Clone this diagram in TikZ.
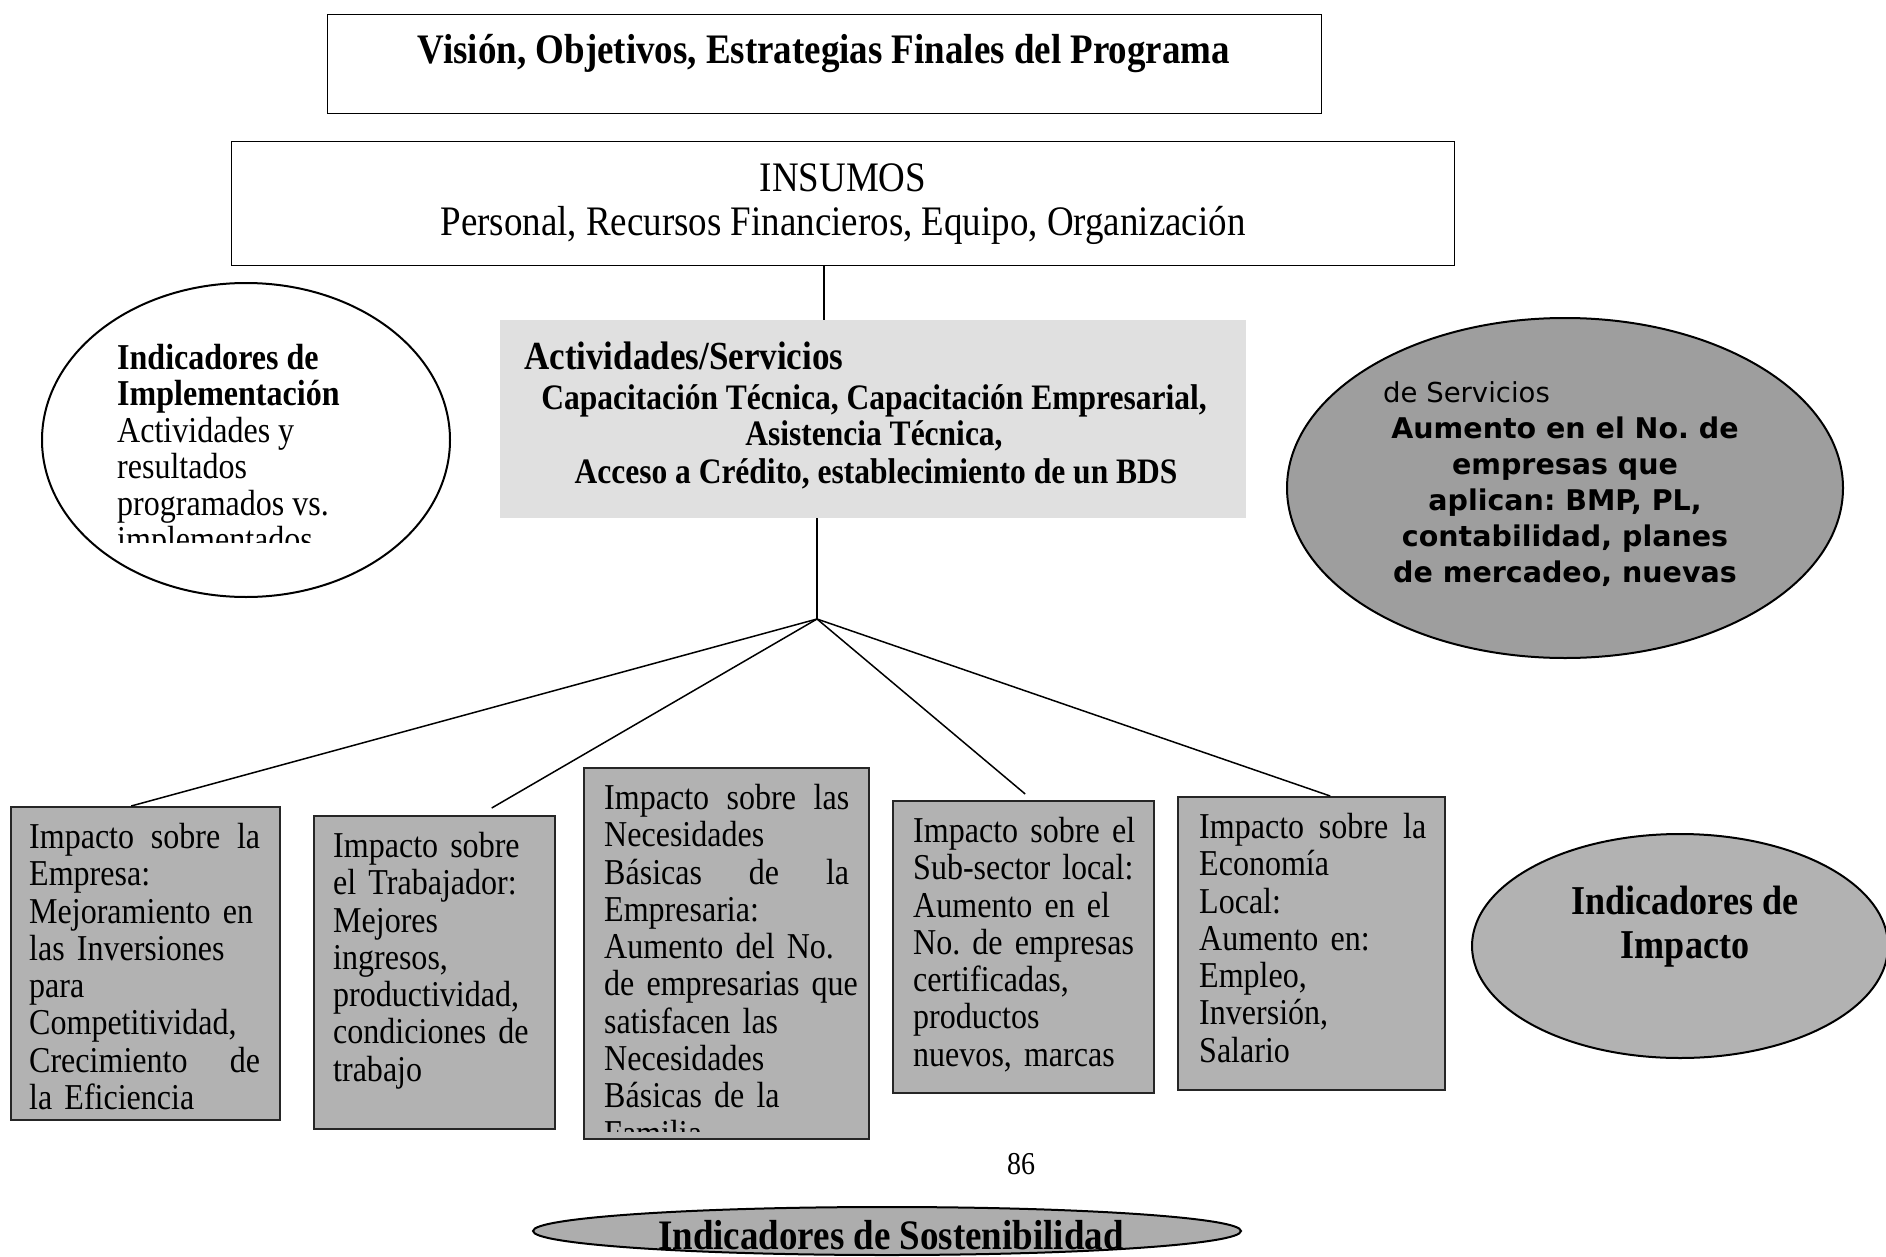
\documentclass[tikz,border=0pt]{standalone}
\usepackage{fontspec}
\setmainfont{Liberation Serif}[FakeStretch=0.88]
\newfontfamily\versans{DejaVu Sans}
\usetikzlibrary{shapes.geometric}
\newcommand\jline[2]{\makebox[#1pt][l]{#2}}
\frenchspacing
\begin{document}
\begin{tikzpicture}[x=1pt,y=-1pt,
  box/.style={draw=black, line width=1.4pt, rectangle, inner sep=0pt, anchor=north west},
  impbox/.style={draw=black!85, line width=2.4pt, fill=black!30, rectangle, inner sep=0pt, anchor=north west},
  imptext/.style={anchor=north west, inner sep=0pt, align=left, font=\fontsize{36.4}{37.3}\selectfont},
  oval/.style={ellipse, draw=black, line width=2pt, inner sep=0pt},
  conn/.style={draw=black, line width=1.5pt},
  lbl/.style={inner sep=0pt, anchor=base}]
\useasboundingbox (0,0) rectangle (1886,1257);
\fill[white] (0,0) rectangle (1886,1257);

% top box
\node[box, minimum width=994pt, minimum height=99pt] (vision) at (327,14) {};
\node[lbl, font=\bfseries\fontsize{42}{48}\selectfont] (visiont) at (824,64) {Visión, Objetivos, Estrategias Finales del Programa};

% insumos
\node[box, minimum width=1223pt, minimum height=124pt] (insumos) at (231,141) {};
\node[lbl, font=\fontsize{42}{48}\selectfont] (insumos1) at (843,192) {INSUMOS};
\node[lbl, font=\fontsize{42}{48}\selectfont] (insumos2) at (843,236) {Personal, Recursos Financieros, Equipo, Organización};

% actividades
\node[rectangle, fill=black!12, minimum width=746pt, minimum height=198pt, anchor=north west, inner sep=0pt] (acts) at (500,320) {};
\node[lbl, anchor=base west, font=\bfseries\fontsize{39.8}{44}\selectfont] (actst) at (524,369) {Actividades/Servicios};
\node[lbl, font=\bfseries\fontsize{35.8}{40}\selectfont] (acts1) at (874,409) {Capacitación Técnica, Capacitación Empresarial,};
\node[lbl, font=\bfseries\fontsize{35.8}{40}\selectfont] (acts2) at (874,445) {Asistencia Técnica,};
\node[lbl, font=\bfseries\fontsize{35.8}{40}\selectfont] (acts3) at (876,483) {Acceso a Crédito, establecimiento de un BDS};

% left ellipse
\node[oval, fill=white, minimum width=408pt, minimum height=314pt] (implell) at (246,440) {};
\begin{scope}
\clip (0,0) rectangle (1886,542);
\node[anchor=north west, inner sep=0pt, align=left, font=\fontsize{36.4}{36.5}\selectfont] (implt) at (117,344)
  {\textbf{Indicadores de}\\\textbf{Implementación}\\Actividades y\\resultados\\programados vs.\\implementados};
\end{scope}

% right ellipse
\node[oval, fill=black!38, minimum width=556pt, minimum height=340pt] (servell) at (1565,488) {};
\node[lbl, anchor=base west, font=\versans\fontsize{27.5}{33}\selectfont] (servt0) at (1383,402) {de Servicios};
\foreach \t [count=\i] in {Aumento en el No. de, empresas que, {aplican: BMP, PL,}, {contabilidad, planes}, {de mercadeo, nuevas}}
  \node[lbl, font=\versans\bfseries\fontsize{28.5}{36}\selectfont] (servt\i) at (1565,{438+36*(\i-1)}) {\t};

% connectors
\coordinate (vx1) at (824,0);
\coordinate (vx2) at (817,0);
\coordinate (fan) at (817,619);
\draw[conn] (insumos.south -| vx1) -- (acts.north -| vx1);
\draw[conn] (acts.south -| vx2) -- (fan);

% bottom boxes
\node[impbox, minimum width=269pt, minimum height=313pt] (b1) at (10,806) {};
\node[impbox, minimum width=241pt, minimum height=313pt] (b2) at (313,815) {};
\node[impbox, minimum width=285pt, minimum height=371pt] (b3) at (583,767) {};
\node[impbox, minimum width=261pt, minimum height=292pt] (b4) at (892,800) {};
\node[impbox, minimum width=267pt, minimum height=293pt] (b5) at (1177,796) {};

\draw[conn] (fan) -- ([xshift=-14.5pt]b1.north);
\draw[conn] (fan) -- ([xshift=57pt,yshift=7pt]b2.north);
\draw[conn] (fan) -- ([xshift=1.5pt,yshift=6pt]b4.north);
\draw[conn] (fan) -- ([xshift=18.5pt]b5.north);

\node[imptext, text width=280pt] (b1t) at (29,823)
  {\jline{231}{Impacto\hfill sobre\hfill la}\\Empresa:\\Mejoramiento en\\las Inversiones\\para\\Competitividad,\\\jline{231}{Crecimiento\hfill de}\\la Eficiencia};
\node[imptext, text width=280pt] (b2t) at (333,832)
  {Impacto sobre\\el Trabajador:\\Mejores\\ingresos,\\productividad,\\condiciones de\\trabajo};
\begin{scope}
\clip ([shift={(2,2)}]b3.north west) rectangle ([shift={(-2,-9)}]b3.south east);
\node[imptext, text width=300pt] (b3t) at (604,784)
  {\jline{245}{Impacto\hfill sobre\hfill las}\\Necesidades\\\jline{245}{Básicas\hfill de\hfill la}\\Empresaria:\\Aumento del No.\\de empresarias que\\satisfacen las\\Necesidades\\Básicas de la\\Familia};
\end{scope}
\node[imptext, text width=280pt] (b4t) at (913,817)
  {\jline{222}{Impacto\hfill sobre\hfill el}\\Sub-sector local:\\Aumento en el\\No. de empresas\\certificadas,\\productos\\nuevos, marcas};
\node[imptext, text width=280pt] (b5t) at (1199,813)
  {\jline{227}{Impacto\hfill sobre\hfill la}\\Economía\\Local:\\Aumento en:\\Empleo,\\Inversión,\\Salario};

% impact ellipse
\node[oval, fill=black!30, minimum width=416pt, minimum height=224pt] (impell) at (1680,946) {};
\node[lbl, font=\bfseries\fontsize{41}{44}\selectfont] (impt1) at (1685,914.5) {Indicadores de};
\node[lbl, font=\bfseries\fontsize{41}{44}\selectfont] (impt2) at (1685,958.5) {Impacto};

% page number
\node[lbl, font=\fontsize{31.8}{36}\selectfont] (pagenum) at (1021,1174) {86};

% sostenibilidad
\node[oval, fill=black!32, minimum width=708pt, minimum height=48pt] (sostell) at (887,1231) {};
\node[lbl, font=\bfseries\fontsize{42}{48}\selectfont] (sostt) at (891,1249) {Indicadores de Sostenibilidad};
\end{tikzpicture}
\end{document}
